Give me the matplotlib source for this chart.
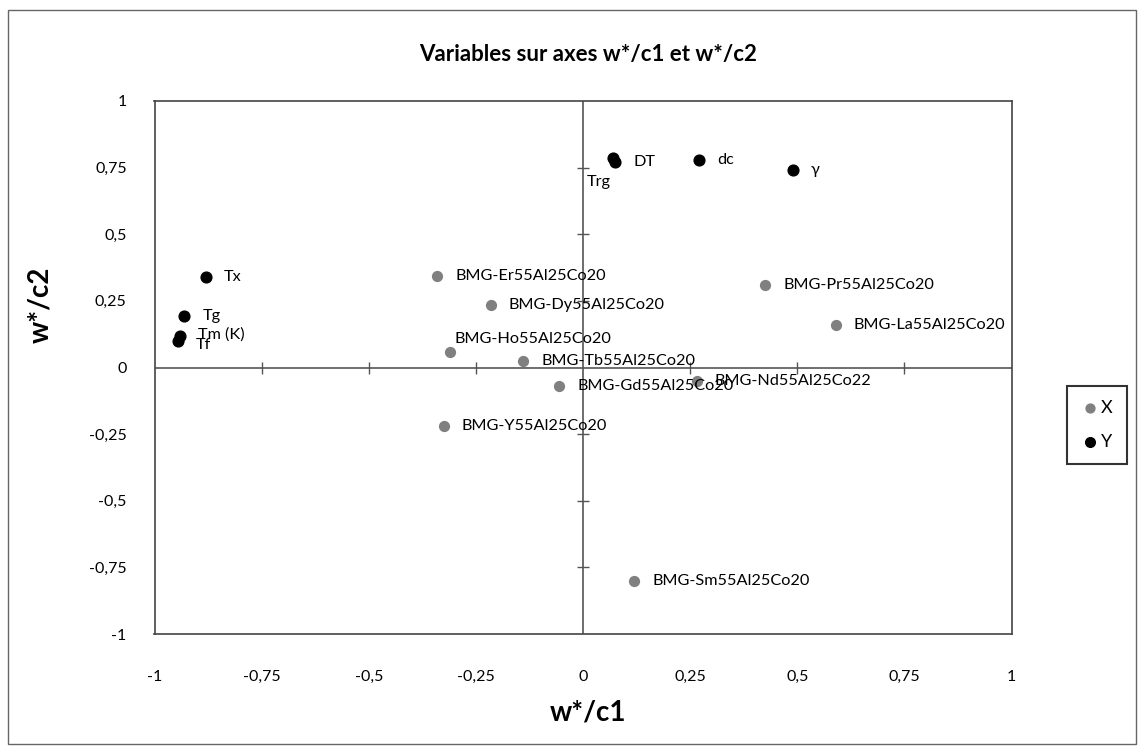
import matplotlib.pyplot as plt
from matplotlib.patches import Rectangle

plt.rcParams['font.family'] = ['Lato', 'DejaVu Sans']

ticks = [-1, -0.75, -0.5, -0.25, 0, 0.25, 0.5, 0.75, 1]
tick_labels = ['-1', '-0,75', '-0,5', '-0,25', '0', '0,25', '0,5', '0,75', '1']

# observations (series X)
x_names = ['BMG-Er55Al25Co20', 'BMG-Dy55Al25Co20', 'BMG-Ho55Al25Co20',
           'BMG-Tb55Al25Co20', 'BMG-Gd55Al25Co20', 'BMG-Nd55Al25Co22',
           'BMG-Y55Al25Co20', 'BMG-Sm55Al25Co20', 'BMG-Pr55Al25Co20',
           'BMG-La55Al25Co20']
x_c1 = [-0.34, -0.215, -0.31, -0.14, -0.055, 0.265, -0.325, 0.12, 0.425, 0.59]
x_c2 = [0.345, 0.235, 0.06, 0.025, -0.07, -0.05, -0.22, -0.80, 0.31, 0.16]

# variables (series Y)
y_names = ['Tx', 'Tg', 'Tm (K)', 'Tf', 'Trg', 'DT', 'dc', 'γ']
y_c1 = [-0.88, -0.93, -0.94, -0.945, 0.07, 0.075, 0.27, 0.49]
y_c2 = [0.34, 0.195, 0.12, 0.10, 0.785, 0.77, 0.78, 0.74]

# label offsets that differ from the default (right of the point)
offsets = {'BMG-Ho55Al25Co20': (3, 9, 'left'), 'Trg': (-10, -17, 'center'),
           'Tm (K)': (13, 1, 'left'), 'Tf': (13, -3, 'left')}

fig = plt.figure(figsize=(11.43, 7.55), dpi=100)
ax = fig.add_axes([154.5 / 1143, 1 - 634 / 755, 857 / 1143, 533 / 755])

ax.set_xlim(-1, 1)
ax.set_ylim(-1, 1)

for s in ax.spines.values():
    s.set_color('#444444')
    s.set_linewidth(1.2)

# axis lines through the origin with cross ticks
ax.axhline(0, color='#555555', lw=1.2, zorder=1)
ax.axvline(0, color='#555555', lw=1.2, zorder=1)
inner = [t for t in ticks if -1 < t < 1 and t != 0]
ax.plot(inner, [0] * len(inner), ls='none', marker='|', ms=8, mew=1, color='#555555', zorder=1)
ax.plot([0] * len(inner), inner, ls='none', marker='_', ms=8, mew=1, color='#555555', zorder=1)

ax.set_xticks(ticks, labels=tick_labels)
ax.set_yticks(ticks, labels=tick_labels)
ax.tick_params(axis='x', length=0, pad=26, labelsize=11.5)
ax.tick_params(axis='y', length=0, pad=20, labelsize=11.5)

ax.scatter(x_c1, x_c2, s=50, color='#808080', label='X', zorder=3)
ax.scatter(y_c1, y_c2, s=60, color='black', label='Y', zorder=3)

for name, cx, cy in list(zip(x_names, x_c1, x_c2)) + list(zip(y_names, y_c1, y_c2)):
    dx, dy, ha = offsets.get(name, (13, 0, 'left'))
    ax.annotate(name, (cx, cy), xytext=(dx, dy), textcoords='offset points',
                ha=ha, va='center', fontsize=11.7, color='black', zorder=4)

fig.text(588 / 1143, 1 - 54 / 755, 'Variables sur axes w*/c1 et w*/c2',
         ha='center', va='center', fontsize=16, fontweight='bold')
fig.text(588 / 1143, 1 - 712 / 755, 'w*/c1', ha='center', va='center',
         fontsize=20, fontweight='bold')
fig.text(40 / 1143, 1 - 305 / 755, 'w*/c2', ha='center', va='center',
         fontsize=20, fontweight='bold', rotation=90)

leg = fig.legend(loc='center', bbox_to_anchor=(1097 / 1143, 1 - 425 / 755),
                 fontsize=13, frameon=True, fancybox=False, handletextpad=0.1,
                 handlelength=1.0, borderpad=0.8, labelspacing=1.0, markerscale=0.9)
leg.get_frame().set_edgecolor('black')
leg.get_frame().set_linewidth(1.5)

fig.patches.append(Rectangle((0.007, 0.015), 0.987, 0.972, transform=fig.transFigure,
                             fill=False, edgecolor='#666666', lw=1))

fig.savefig('out.png', dpi=100)
